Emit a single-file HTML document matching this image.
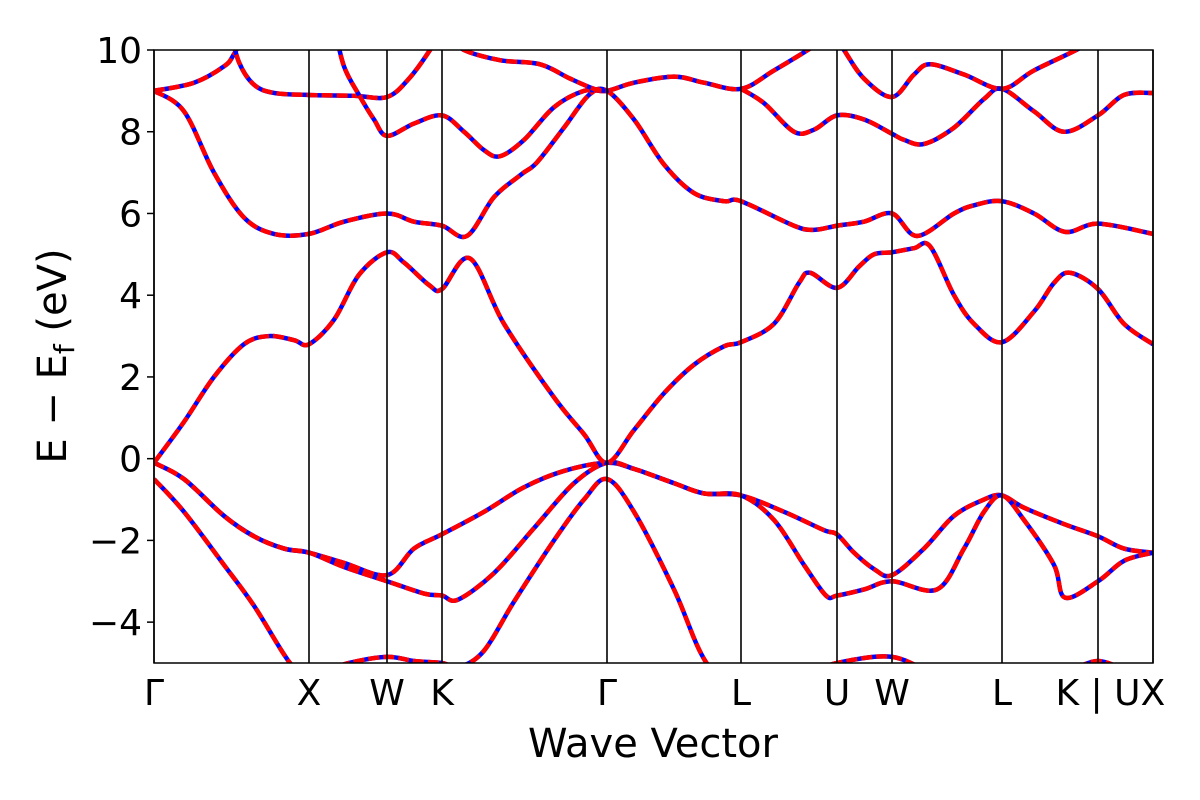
<!DOCTYPE html>
<html><head><meta charset="utf-8"><style>
html,body{margin:0;padding:0;background:#fff;}
svg{display:block;font-family:"DejaVu Sans","Liberation Sans",sans-serif;}
</style></head><body>
<svg id="chart" width="1200" height="800">
<defs><clipPath id="clip"><rect x="154" y="50" width="999" height="613"/></clipPath></defs>
<g id="bands" clip-path="url(#clip)"></g>
<g id="vlines"></g>
<rect x="154" y="50" width="999" height="613" fill="none" stroke="#000" stroke-width="1.5"/>
<g id="yticks"></g>
<g id="xticks"></g>
<text x="653" y="757" font-size="40" text-anchor="middle">Wave Vector</text>
<text transform="translate(66,356) rotate(-90)" font-size="40" text-anchor="middle">E − E<tspan font-size="28" dy="8">f</tspan><tspan dy="-8"> (eV)</tspan></text>
</svg>
<script>
const kTicks=[0,1.55,2.33,2.88,4.53,5.87,6.83,7.38,8.48,9.44,9.99];
const kLabels=["Γ","X","W","K","Γ","L","U","W","L","K | U","X"];
const yTicks=[-4,-2,0,2,4,6,8,10];
const bandA=[[0,-0.5],[0.3,-1.3],[0.7,-2.6],[1.0,-3.6],[1.36,-5],[1.55,-5.3],[1.95,-5.0],[2.33,-4.85],[2.6,-4.95],[2.88,-5.0],[3.05,-5.1],[3.3,-4.7],[3.6,-3.5],[4.0,-2.0],[4.3,-1.0],[4.53,-0.5],[4.8,-1.3],[5.2,-3.2],[5.5,-4.9],[5.87,-6]];
const bandA2=[[6.5,-5.3],[6.83,-5.0],[7.38,-4.85],[7.8,-5.3]];
const bandA3=[[9.1,-5.3],[9.44,-4.95],[9.8,-5.3]];
const bandB1=[[0,-0.1],[0.3,-0.5],[0.7,-1.4],[1.0,-1.9],[1.3,-2.2],[1.55,-2.3],[1.9,-2.55],[2.33,-2.85],[2.6,-2.2],[2.88,-1.85],[3.3,-1.3],[3.7,-0.7],[4.1,-0.3],[4.53,-0.1],[4.8,-0.25],[5.2,-0.6],[5.5,-0.85],[5.87,-0.9],[6.3,-1.3],[6.7,-1.75],[6.83,-1.85],[7.0,-2.3],[7.2,-2.7],[7.38,-2.85],[7.7,-2.2],[8.0,-1.4],[8.3,-1.0],[8.48,-0.9],[8.7,-1.2],[9.1,-1.6],[9.44,-1.9],[9.7,-2.2],[9.99,-2.3]];
const bandB2=[[0,-0.1],[0.3,-0.5],[0.7,-1.4],[1.0,-1.9],[1.3,-2.2],[1.55,-2.3],[1.9,-2.65],[2.33,-3.0],[2.7,-3.3],[2.88,-3.35],[3.04,-3.45],[3.4,-2.8],[3.8,-1.7],[4.2,-0.6],[4.53,-0.1],[4.8,-0.25],[5.2,-0.6],[5.5,-0.85],[5.87,-0.9],[6.2,-1.5],[6.5,-2.6],[6.72,-3.35],[6.83,-3.35],[7.1,-3.2],[7.38,-3.0],[7.83,-3.2],[8.1,-2.2],[8.3,-1.3],[8.48,-0.9],[8.7,-1.5],[9.0,-2.6],[9.11,-3.4],[9.44,-3.0],[9.7,-2.5],[9.99,-2.3]];
const bandC1=[[0,-0.1],[0.3,0.9],[0.6,2.0],[0.9,2.8],[1.15,3.0],[1.4,2.9],[1.55,2.8],[1.8,3.4],[2.05,4.5],[2.33,5.05],[2.5,4.8],[2.75,4.25],[2.88,4.15],[3.16,4.9],[3.5,3.3],[4.0,1.5],[4.3,0.6],[4.53,-0.1],[4.8,0.7],[5.1,1.6],[5.4,2.3],[5.7,2.75],[5.87,2.85],[6.2,3.3],[6.45,4.3],[6.56,4.55],[6.83,4.18],[7.05,4.7],[7.2,5.0],[7.38,5.05],[7.6,5.15],[7.76,5.2],[8.0,4.0],[8.2,3.3],[8.48,2.85],[8.8,3.6],[9.0,4.3],[9.16,4.55],[9.44,4.15],[9.7,3.3],[9.99,2.8]];
const bandC2=[[0,9.0],[0.3,8.5],[0.6,7.0],[0.9,5.9],[1.2,5.5],[1.55,5.5],[1.9,5.8],[2.33,6.0],[2.6,5.8],[2.88,5.7],[3.13,5.45],[3.4,6.4],[3.67,6.95],[3.83,7.25],[4.1,8.1],[4.35,8.9],[4.53,9.0],[4.8,8.3],[5.1,7.2],[5.4,6.5],[5.7,6.3],[5.87,6.3],[6.4,5.7],[6.6,5.6],[6.83,5.7],[7.1,5.8],[7.38,6.0],[7.63,5.45],[8.0,6.0],[8.2,6.2],[8.48,6.3],[8.8,6.0],[9.11,5.55],[9.44,5.75],[9.99,5.5]];
const bandC3=[[0,9.0],[0.4,9.2],[0.7,9.6],[0.8,9.9],[0.95,10.6]];
const bandC4=[[0.75,10.6],[0.85,9.7],[1.0,9.15],[1.2,8.95],[1.55,8.9],[2.0,8.88],[2.33,8.85],[2.55,9.3],[2.76,10],[2.9,10.6]];
const bandC5=[[1.8,10.6],[1.9,9.6],[2.05,8.9],[2.2,8.3],[2.33,7.9],[2.6,8.2],[2.88,8.4],[3.1,8.0],[3.3,7.55],[3.46,7.4],[3.7,7.8],[4.0,8.6],[4.3,9.0],[4.53,9.0],[4.8,9.2],[5.2,9.35],[5.5,9.2],[5.87,9.05],[6.2,9.5],[6.6,10.1],[6.8,10.5]];
const bandC6=[[3.0,10.3],[3.1,10.0],[3.46,9.75],[3.86,9.65],[4.16,9.3],[4.4,9.05],[4.53,9.0]];
const bandC7=[[5.87,9.05],[6.1,8.7],[6.4,8.0],[6.6,8.05],[6.83,8.4],[7.1,8.3],[7.38,7.95],[7.5,7.8],[7.7,7.7],[8.0,8.1],[8.3,8.8],[8.48,9.05],[8.8,8.5],[9.1,8.0],[9.44,8.4],[9.7,8.9],[9.99,8.95]];
const bandC8=[[6.75,10.6],[6.9,10.0],[7.1,9.3],[7.38,8.85],[7.6,9.4],[7.76,9.65],[8.1,9.4],[8.48,9.05],[8.8,9.5],[9.3,10.1],[9.6,10.6]];
const allBands=[bandA,bandA2,bandA3,bandB1,bandB2,bandC1,bandC2,bandC3,bandC4,bandC5,bandC6,bandC7,bandC8];

const X0=154,X1=1153,Y0=663,Y1=50,EMIN=-5,EMAX=10;
const kMax=kTicks[kTicks.length-1];
const xs=k=>X0+(k/kMax)*(X1-X0);
const ys=e=>Y0-(e-EMIN)/(EMAX-EMIN)*(Y0-Y1);
const NS="http://www.w3.org/2000/svg";
function mk(t,a){const e=document.createElementNS(NS,t);for(const n in a)e.setAttribute(n,a[n]);return e;}
function pathD(pts){
  const p=pts.map(q=>[xs(q[0]),ys(q[1])]);
  let d="M"+p[0][0]+","+p[0][1];
  for(let i=0;i<p.length-1;i++){
    const p0=p[Math.max(0,i-1)],p1=p[i],p2=p[i+1],p3=p[Math.min(p.length-1,i+2)];
    const c1=[p1[0]+(p2[0]-p0[0])/6,p1[1]+(p2[1]-p0[1])/6];
    const c2=[p2[0]-(p3[0]-p1[0])/6,p2[1]-(p3[1]-p1[1])/6];
    d+=" C"+c1[0]+","+c1[1]+" "+c2[0]+","+c2[1]+" "+p2[0]+","+p2[1];
  }
  return d;
}
const gB=document.getElementById("bands");
allBands.forEach((b,i)=>{
  const d=pathD(b);
  const p1=mk("path",{d:d,fill:"none",stroke:"#0000ff","stroke-width":4.5});
  
  
  gB.appendChild(p1);
  const p2=mk("path",{d:d,fill:"none",stroke:"#ff0000","stroke-width":4.5,"stroke-dasharray":"11,4"});
  
  
  gB.appendChild(p2);
});
const gV=document.getElementById("vlines");
kTicks.forEach(k=>{
  const l=mk("line",{x1:xs(k),x2:xs(k),y1:Y1,y2:Y0,stroke:"#000","stroke-width":1.6});
  
  
  gV.appendChild(l);
});
const gX=document.getElementById("xticks");
kTicks.forEach((k,i)=>{
  const t=mk("text",{x:xs(k),y:705,"font-size":36,"text-anchor":"middle"});
  t.textContent=kLabels[i];
  
  
  gX.appendChild(t);
});
const gY=document.getElementById("yticks");
yTicks.forEach(v=>{
  const l=mk("line",{x1:X0-7,x2:X0,y1:ys(v),y2:ys(v),stroke:"#000","stroke-width":1.5});
  
  
  gY.appendChild(l);
  const t=mk("text",{x:X0-12,y:ys(v)+13,"font-size":36,"text-anchor":"end"});
  t.textContent=(v<0?"−":"")+Math.abs(v);
  
  
  gY.appendChild(t);
});
</script>
</body></html>
